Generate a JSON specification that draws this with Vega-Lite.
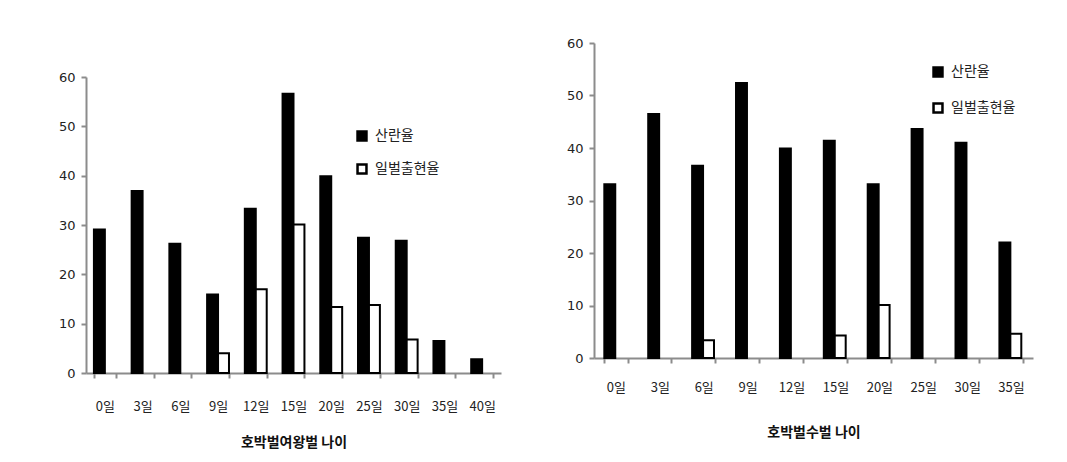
{
  "$schema": "https://vega.github.io/schema/vega-lite/v6.json",
  "background": "white",
  "padding": {"left": 58, "top": 37, "right": 5, "bottom": 5},
  "spacing": 65,
  "config": {
    "font": "Noto Sans CJK KR",
    "view": {"stroke": null},
    "axis": {
      "domainColor": "#8c8c8c", "domainWidth": 2, "tickColor": "#8c8c8c", "tickWidth": 2, "tickSize": 5,
      "labelColor": "#222222", "labelFontSize": 13, "labelFont": "Noto Sans CJK KR", "grid": false,
      "titleFont": "Noto Sans CJK KR", "titleFontSize": 14, "titleFontWeight": "bold", "titleColor": "#111111"
    },
    "legend": {"labelFont": "Noto Sans CJK KR", "labelFontSize": 14, "labelColor": "#222222"}
  },
  "datasets": {
    "queen": [
      {"age": "0일", "series": "산란율", "value": 29.1},
      {"age": "3일", "series": "산란율", "value": 36.9},
      {"age": "6일", "series": "산란율", "value": 26.2},
      {"age": "9일", "series": "산란율", "value": 15.9},
      {"age": "9일", "series": "일벌출현율", "value": 4.0},
      {"age": "12일", "series": "산란율", "value": 33.3},
      {"age": "12일", "series": "일벌출현율", "value": 17.0},
      {"age": "15일", "series": "산란율", "value": 56.6},
      {"age": "15일", "series": "일벌출현율", "value": 30.1},
      {"age": "20일", "series": "산란율", "value": 39.9},
      {"age": "20일", "series": "일벌출현율", "value": 13.4},
      {"age": "25일", "series": "산란율", "value": 27.4},
      {"age": "25일", "series": "일벌출현율", "value": 13.8},
      {"age": "30일", "series": "산란율", "value": 26.8},
      {"age": "30일", "series": "일벌출현율", "value": 6.8},
      {"age": "35일", "series": "산란율", "value": 6.5},
      {"age": "40일", "series": "산란율", "value": 2.8}
    ],
    "drone": [
      {"age": "0일", "series": "산란율", "value": 33.1},
      {"age": "3일", "series": "산란율", "value": 46.5},
      {"age": "6일", "series": "산란율", "value": 36.6},
      {"age": "6일", "series": "일벌출현율", "value": 3.4},
      {"age": "9일", "series": "산란율", "value": 52.4},
      {"age": "12일", "series": "산란율", "value": 39.9},
      {"age": "15일", "series": "산란율", "value": 41.4},
      {"age": "15일", "series": "일벌출현율", "value": 4.3},
      {"age": "20일", "series": "산란율", "value": 33.1},
      {"age": "20일", "series": "일벌출현율", "value": 10.1},
      {"age": "25일", "series": "산란율", "value": 43.6},
      {"age": "30일", "series": "산란율", "value": 41.0},
      {"age": "35일", "series": "산란율", "value": 22.0},
      {"age": "35일", "series": "일벌출현율", "value": 4.6}
    ]
  },
  "resolve": {"scale": {"fill": "independent"}, "legend": {"fill": "independent"}},
  "hconcat": [
    {
      "width": 415,
      "height": 330,
      "data": {"name": "queen"},
      "mark": {"type": "bar", "stroke": "black", "strokeWidth": 2},
      "encoding": {
        "x": {
          "field": "age", "type": "nominal",
          "sort": ["0일", "3일", "6일", "9일", "12일", "15일", "20일", "25일", "30일", "35일", "40일"],
          "scale": {"paddingInner": 0.42, "paddingOuter": 0.21},
          "axis": {"labelAngle": 0, "tickBand": "extent", "labelPadding": 22, "title": "호박벌여왕벌 나이", "titlePadding": 22}
        },
        "xOffset": {"field": "series", "type": "nominal", "sort": ["산란율", "일벌출현율"], "scale": {"paddingInner": 0, "paddingOuter": 0}},
        "y": {
          "field": "value", "type": "quantitative",
          "scale": {"domain": [0, 60], "nice": false, "range": [330, 34]},
          "axis": {"values": [0, 10, 20, 30, 40, 50, 60], "title": null, "labelPadding": 6, "labelFont": "DejaVu Sans", "labelFontSize": 13}
        },
        "fill": {
          "field": "series", "type": "nominal",
          "scale": {"domain": ["산란율", "일벌출현율"], "range": ["black", "white"]},
          "legend": {
            "title": null, "orient": "none", "legendX": 269, "legendY": 86,
            "symbolType": "square", "symbolSize": 80, "symbolStrokeColor": "black", "symbolStrokeWidth": 2.5,
            "rowPadding": 13, "labelOffset": 6, "padding": 0
          }
        }
      }
    },
    {
      "width": 439,
      "height": 315,
      "data": {"name": "drone"},
      "mark": {"type": "bar", "stroke": "black", "strokeWidth": 2},
      "encoding": {
        "x": {
          "field": "age", "type": "nominal",
          "sort": ["0일", "3일", "6일", "9일", "12일", "15일", "20일", "25일", "30일", "35일"],
          "scale": {"paddingInner": 0.47, "paddingOuter": 0.235},
          "axis": {"labelAngle": 0, "tickBand": "extent", "labelPadding": 18, "title": "호박벌수벌 나이", "titlePadding": 31}
        },
        "xOffset": {"field": "series", "type": "nominal", "sort": ["산란율", "일벌출현율"], "scale": {"paddingInner": 0, "paddingOuter": 0}},
        "y": {
          "field": "value", "type": "quantitative",
          "scale": {"domain": [0, 60], "nice": false},
          "axis": {"values": [0, 10, 20, 30, 40, 50, 60], "title": null, "labelPadding": 6, "labelFont": "DejaVu Sans", "labelFontSize": 13}
        },
        "fill": {
          "field": "series", "type": "nominal",
          "scale": {"domain": ["산란율", "일벌출현율"], "range": ["black", "white"]},
          "legend": {
            "title": null, "orient": "none", "legendX": 337, "legendY": 22,
            "symbolType": "square", "symbolSize": 80, "symbolStrokeColor": "black", "symbolStrokeWidth": 2.5,
            "rowPadding": 16, "labelOffset": 6, "padding": 0
          }
        }
      }
    }
  ]
}
